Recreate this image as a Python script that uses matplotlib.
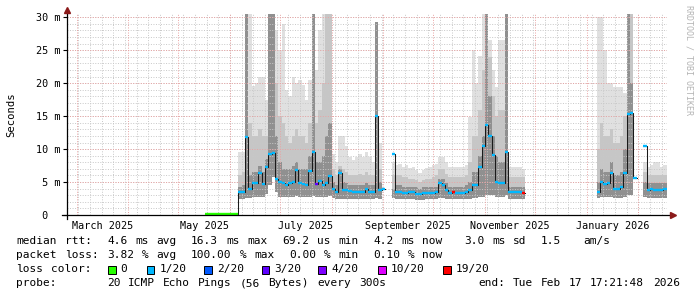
import re
import numpy as np
import matplotlib
matplotlib.use('Agg')
from matplotlib import pyplot as plt
import matplotlib.dates as mdates
import matplotlib.transforms as mtransforms
from matplotlib.patches import Rectangle

nan = np.nan

#------------------------------------------------------------
# median rtt and smoke bands (ms), one value per 2-day step
# segment 1 starts with the near-zero (green) period
seg1_start = '2025-05-17'
seg1_med = [0.1, 0.1, 0.1, 0.1, 0.1, 0.1, 0.1, 0.1, 0.1, 0.1,
            3.5, 3.5, 11.8, 4.0, 4.8, 4.8, 6.3, 4.7, 7.3, 9.3,
            9.4, 5.5, 5.0, 4.8, 4.5, 4.9, 5.0, 6.9, 4.8, 4.7,
            4.5, 6.7, 9.6, 4.7, 5.2, 4.5, 4.8, 5.9, 4.0, 3.5,
            6.4, 3.8, 3.8, 3.6, 3.5, 3.5, 3.5, 3.5, 4.0, 3.5,
            3.5, 15.0, 3.8, 4.0, nan, nan, 9.2, 3.5, 3.5, 3.4,
            3.4, 3.5, 3.5, 3.2, 3.2, 3.3, 3.4, 3.4, 3.4, 3.5,
            4.8, 4.5, 3.8, 3.4, 3.5, 3.4, 3.4, 3.4, 3.5, 3.8,
            4.5, 4.5, 7.3, 10.4, 13.6, 12.0, 9.1, 5.0, 4.8, 4.8,
            9.6, 3.5, 3.5, 3.5, 3.5, 3.4]
seg1_lo = [nan, nan, nan, nan, nan, nan, nan, nan, nan, nan,
           2.4, 2.4, 2.6, 2.6, 2.7, 2.7, 2.8, 2.8, 3.2, 4.5,
           5.8, 3.5, 2.8, 2.7, 2.7, 2.8, 2.8, 2.9, 2.8, 2.7,
           2.7, 2.8, 2.9, 2.8, 2.7, 2.7, 2.8, 2.9, 2.6, 2.5,
           2.5, 2.5, 2.5, 2.5, 2.5, 2.5, 2.5, 2.5, 2.5, 2.5,
           2.5, 2.6, 2.5, 2.5, nan, nan, 2.6, 2.5, 2.5, 2.4,
           2.4, 2.5, 2.5, 2.3, 2.3, 2.3, 2.4, 2.4, 2.4, 2.5,
           2.6, 2.6, 2.5, 2.4, 2.4, 2.4, 2.4, 2.4, 2.5, 2.5,
           2.6, 2.6, 2.8, 2.8, 3.0, 3.0, 3.0, 2.8, 2.8, 2.8,
           3.0, 2.5, 2.5, 2.5, 2.5, 2.5]
seg1_dk = [nan, nan, nan, nan, nan, nan, nan, nan, nan, nan,
           4.2, 4.5, 30.5, 6.0, 6.5, 6.5, 7.5, 6.5, 8.5, 30.5,
           30.5, 12.0, 8.0, 7.0, 7.0, 7.0, 7.5, 8.0, 7.0, 7.0,
           7.0, 9.0, 30.5, 8.0, 8.0, 9.0, 12.0, 14.0, 5.0, 4.5,
           7.0, 5.0, 4.8, 4.5, 4.5, 4.5, 4.5, 4.5, 4.8, 4.5,
           4.5, 29.3, 5.0, 6.8, nan, nan, 4.0, 4.5, 4.5, 4.3,
           4.3, 4.3, 4.3, 4.2, 4.0, 4.2, 4.2, 4.2, 4.3, 4.3,
           5.5, 5.5, 4.8, 4.3, 4.3, 4.3, 4.3, 4.3, 4.5, 5.0,
           6.5, 6.5, 9.0, 12.0, 30.5, 18.0, 12.0, 9.0, 8.0, 8.0,
           30.5, 4.3, 4.3, 4.3, 4.3, 4.3]
seg1_md = [nan, nan, nan, nan, nan, nan, nan, nan, nan, nan,
           6.0, 6.5, 30.5, 14.0, 12.0, 12.0, 13.0, 12.0, 12.0, 30.5,
           30.5, 20.0, 15.0, 14.0, 12.0, 11.0, 12.0, 13.0, 12.0, 12.0,
           11.0, 14.0, 30.5, 14.0, 16.0, 20.0, 30.5, 30.5, 7.0, 6.0,
           7.5, 7.0, 6.5, 6.0, 6.0, 6.0, 6.2, 6.0, 6.5, 6.0,
           6.0, 29.3, 7.0, 14.9, nan, nan, 6.0, 6.0, 6.0, 5.8,
           5.8, 5.5, 5.5, 5.3, 5.0, 5.3, 5.5, 5.5, 5.8, 6.0,
           7.0, 7.0, 6.2, 5.8, 5.8, 5.8, 5.8, 5.8, 6.0, 8.0,
           12.0, 12.0, 16.0, 22.0, 30.5, 24.0, 18.0, 15.0, 16.0, 16.0,
           30.5, 5.8, 5.8, 5.8, 5.8, 5.8]
seg1_hi = [nan, nan, nan, nan, nan, nan, nan, nan, nan, nan,
           9.5, 9.6, 30.5, 30.5, 19.5, 20.0, 21.0, 21.0, 17.5, 30.5,
           30.5, 28.0, 25.0, 29.0, 19.0, 18.0, 21.0, 20.0, 20.5, 19.7,
           17.4, 20.5, 30.5, 22.0, 28.0, 30.5, 30.5, 30.5, 9.3, 8.1,
           12.0, 12.0, 10.4, 8.8, 8.3, 8.8, 9.3, 8.8, 9.6, 8.8,
           8.1, 29.3, 10.9, 14.9, nan, nan, 8.0, 7.6, 7.8, 7.3,
           7.6, 7.1, 7.3, 6.8, 6.3, 6.8, 7.1, 7.3, 7.6, 7.8,
           8.8, 8.8, 8.0, 7.3, 7.3, 7.3, 7.3, 7.3, 7.6, 14.8,
           25.0, 20.0, 24.2, 30.5, 30.5, 26.5, 22.0, 19.4, 26.5, 26.5,
           30.5, 7.3, 7.3, 7.3, 7.3, 7.0]
# packet loss per step, in pings out of 20
seg1_loss = [0, 0, 0, 0, 0, 0, 0, 0, 0, 0,
             1, 1, 1, 1, 1, 1, 1, 1, 1, 1,
             1, 1, 1, 1, 1, 1, 1, 1, 1, 1,
             1, 1, 1, 3, 1, 1, 1, 1, 1, 1,
             1, 1, 1, 1, 1, 1, 1, 1, 1, 1,
             1, 1, 1, 1, 1, 1, 1, 1, 1, 1,
             1, 1, 1, 1, 1, 1, 1, 1, 1, 1,
             1, 1, 1, 1, 19, 1, 1, 1, 1, 1,
             1, 1, 1, 1, 1, 1, 1, 1, 1, 1,
             1, 1, 1, 1, 1, 19]

seg2_start = '2026-01-07'
seg2_med = [3.5, 5.0, 4.7, 4.8, 6.3, 4.0, 4.0, 4.2, 6.3, 15.3,
            15.5, 5.6, nan, nan, 10.5, 3.8, 4.0, 3.8, 3.8, 3.8, 4.0]
seg2_lo = [2.6, 2.8, 2.8, 2.8, 2.8, 2.6, 2.6, 2.6, 2.8, 3.0,
           3.0, 3.0, nan, nan, 2.8, 2.6, 2.6, 2.6, 2.6, 2.6, 2.6]
seg2_dk = [5.0, 7.0, 6.5, 6.5, 8.0, 6.0, 6.0, 6.5, 10.0, 30.5,
           20.0, 7.0, nan, nan, 5.0, 4.8, 4.8, 4.8, 4.8, 4.8, 4.8]
seg2_md = [10.0, 14.0, 12.0, 12.0, 13.0, 11.0, 11.0, 12.0, 15.0, 30.5,
           30.5, 9.0, nan, nan, 6.5, 6.0, 6.0, 6.0, 6.0, 6.0, 6.0]
seg2_hi = [30.0, 30.0, 25.0, 20.0, 20.0, 19.4, 19.4, 19.4, 18.5, 30.5,
           30.5, 11.0, nan, nan, 8.0, 7.3, 7.6, 8.1, 8.1, 7.3, 7.6]
seg2_loss = [1, 1, 1, 1, 1, 1, 1, 1, 1, 1,
             1, 1, 1, 1, 1, 1, 1, 1, 1, 1, 1]

month_labels = ['March 2025', 'May 2025', 'July 2025',
                'September 2025', 'November 2025', 'January 2026']
label_months = ['2025-03', '2025-05', '2025-07', '2025-09', '2025-11', '2026-01']

loss_levels = [0, 1, 2, 3, 4, 10, 19]
loss_names = ['0', '1/20', '2/20', '3/20', '4/20', '10/20', '19/20']
loss_colours = ['#26ff00', '#00b8ff', '#0059ff', '#5e00ff', '#7e00ff', '#dd00ff', '#ff0000']

legend_rtt = 'median rtt:  4.6 ms avg  16.3 ms max  69.2 us min  4.2 ms now   3.0 ms sd  1.5   am/s'
legend_loss = 'packet loss: 3.82 % avg  100.00 % max  0.00 % min  0.10 % now'
legend_probe = 'probe:       20 ICMP Echo Pings (56 Bytes) every 300s             end: Tue Feb 17 17:21:48 2026'

#------------------------------------------------------------
W, H = 697, 297
STEP = np.timedelta64(2, 'D')
SMOKE = ['#e0e0e0', '#c6c6c6', '#909090']
FS = 7.3
LEG_FS = 8.0
colour_of = dict(zip(loss_levels, loss_colours))

plt.rcParams['font.family'] = 'DejaVu Sans Mono'

fig = plt.figure(figsize=(W / 100, H / 100), dpi=100)
ax = fig.add_axes([66.5 / W, 1 - 215 / H, 600.5 / W, 201 / H])
x0 = mdates.date2num(np.datetime64('2025-02-22T21:00'))
x1 = mdates.date2num(np.datetime64('2026-02-18T05:00'))
ax.set_xlim(x0, x1)
ax.set_ylim(0, 30.5)
for s in ax.spines.values():
    s.set_visible(False)


def ext(a):
    a = np.array(a, float)
    return np.append(a, a[-1])


def draw_segment(start, med, lo, dk, md, hi, loss):
    edges = mdates.date2num(np.datetime64(start) + np.arange(len(med) + 1) * STEP)
    for top, col in zip([hi, md, dk], SMOKE):
        ax.fill_between(edges, ext(lo), ext(top), step='post', color=col,
                        lw=0, zorder=1)
    ax.step(edges, ext(med), where='post', color='#1a1a1a', lw=0.75, zorder=4)
    ax.hlines(med, edges[:-1], edges[1:], colors=[colour_of[l] for l in loss],
              lw=1.7, zorder=5)


draw_segment(seg1_start, seg1_med, seg1_lo, seg1_dk, seg1_md, seg1_hi, seg1_loss)
draw_segment(seg2_start, seg2_med, seg2_lo, seg2_dk, seg2_md, seg2_hi, seg2_loss)

# grid: weekly / 1 ms minor, monthly / 5 ms major
weeks = mdates.date2num(np.arange(np.datetime64('2025-02-23'), np.datetime64('2026-02-19'),
                                  np.timedelta64(7, 'D')))
months = mdates.date2num(np.arange(np.datetime64('2025-03'), np.datetime64('2026-03'))
                         .astype('datetime64[D]'))
ax.vlines(weeks, 0, 30.5, colors='#c8c8c8', linestyles=(0, (1, 1.6)), lw=0.7, zorder=2)
ax.hlines(np.arange(1, 31), x0, x1, colors='#c8c8c8', linestyles=(0, (1, 1.6)), lw=0.7, zorder=2)
ax.vlines(months, 0, 30.5, colors='#e9a3a3', linestyles=(0, (1, 1.6)), lw=0.7, zorder=3)
ax.hlines(np.arange(5, 31, 5), x0, x1, colors='#e9a3a3', linestyles=(0, (1, 1.6)), lw=0.7, zorder=3)

# month labels centred on the month
lm = np.array(label_months, dtype='datetime64[M]')
centres = (mdates.date2num(lm.astype('datetime64[D]')) +
           mdates.date2num((lm + 1).astype('datetime64[D]'))) / 2
ax.set_xticks(centres)
ax.set_xticklabels(month_labels)
ax.tick_params(axis='x', length=0, pad=4.5, labelsize=FS)
ax.set_yticks(np.arange(0, 31, 5))
ax.set_yticklabels([])
ax.tick_params(axis='y', length=3, width=0.8, direction='out')

ylab_tr = mtransforms.blended_transform_factory(fig.transFigure, ax.transData)
for v in range(0, 31, 5):
    lab = '%2d m' % v if v else ' 0'
    ax.text(36 / W, v, lab, transform=ylab_tr, ha='left', va='center_baseline', fontsize=FS)

# axes with arrows
ax.plot([-4.5 / 600.5, 605 / 600.5], [0, 0], transform=ax.transAxes, clip_on=False,
        color='black', lw=0.9, zorder=6)
ax.plot([0, 0], [-4 / 201, 204 / 201], transform=ax.transAxes, clip_on=False,
        color='black', lw=0.9, zorder=6)
ax.plot([606 / 600.5], [0], marker='>', ms=4.5, color='#8b1a1a', transform=ax.transAxes,
        clip_on=False, zorder=7)
ax.plot([0], [205 / 201], marker='^', ms=4.5, color='#8b1a1a', transform=ax.transAxes,
        clip_on=False, zorder=7)

fig.text(11 / W, 1 - 115 / H, 'Seconds', rotation=90, ha='center', va='center', fontsize=7.6)
fig.text(688.5 / W, 1 - 60 / H, 'RRDTOOL / TOBI OETIKER', rotation=-90, ha='center',
         va='center', fontsize=6, color='#b4b4b4')


#------------------------------------------------------------
# legend, laid out on a 7 px character grid
def mono_line(s, y, xs=16):
    for m in re.finditer(r'\S+', s):
        fig.text((xs + 7 * m.start()) / W, 1 - y / H, m.group(), fontsize=LEG_FS,
                 ha='left', va='baseline')


mono_line(legend_rtt, 244)
mono_line(legend_loss, 258)
mono_line('loss color:', 272)
mono_line(legend_probe, 286)

box_x = [108, 146.7, 204, 261.7, 318.3, 378.3, 443.3]
for bx, name, col in zip(box_x, loss_names, loss_colours):
    fig.add_artist(Rectangle((bx / W, 1 - 273.5 / H), 7.6 / W, 7.6 / H, facecolor=col,
                             edgecolor='black', lw=0.7, transform=fig.transFigure))
    fig.text((bx + 12.7) / W, 1 - 272 / H, name, fontsize=LEG_FS, ha='left', va='baseline')

fig.savefig('out.png', dpi=100)
